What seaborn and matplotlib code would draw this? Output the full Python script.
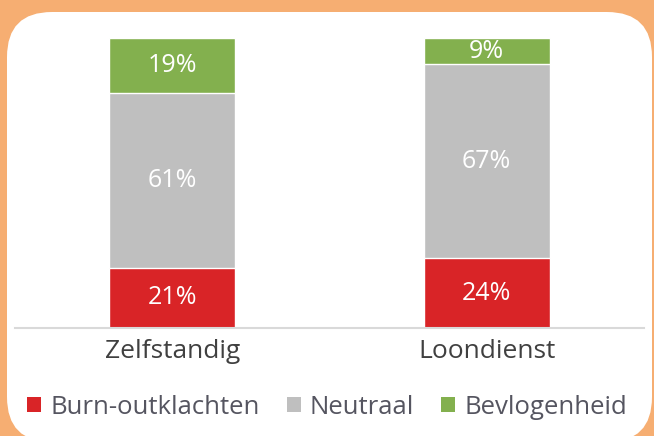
import numpy as np
import pandas as pd
import seaborn as sns
import matplotlib.pyplot as plt
from matplotlib.patches import FancyBboxPatch, Patch
from matplotlib.transforms import IdentityTransform

# gegevens
groepen = ['Zelfstandig', 'Loondienst']
reeksen = ['Burn-outklachten', 'Neutraal', 'Bevlogenheid']
burnout = [21, 24]
neutraal = [61, 67]
bevlogen = [19, 9]
kleuren = ['#D92427', '#BFBFBF', '#83B04E']

sns.set_style('white')
plt.rcParams['font.family'] = ['Open Sans', 'DejaVu Sans']

waarden = np.array([burnout, neutraal, bevlogen], dtype=float)
totaal = waarden.sum(axis=0)
aandeel = waarden / totaal * 100  # schalen naar 100%
cumul = np.cumsum(aandeel, axis=0)

fig = plt.figure(figsize=(6.54, 4.36), dpi=100)
fig.patch.set_facecolor('#F6AE72')

# witte afgeronde kaart (in pixels)
kaart = FancyBboxPatch((7, -6), 645, 430,
                       boxstyle='round,pad=0,rounding_size=45',
                       transform=IdentityTransform(), facecolor='white',
                       edgecolor='none', zorder=-1)
fig.patches.append(kaart)

ax = fig.add_axes([0.0229, 0.2477, 0.9618, 0.6651])
ax.set_facecolor('none')

df = pd.DataFrame({'groep': groepen})
# van boven naar beneden tekenen zodat de stapels zichtbaar blijven
for i in [2, 1, 0]:
    df['h'] = cumul[i]
    sns.barplot(data=df, x='groep', y='h', color=kleuren[i], width=0.4,
                saturation=1, ax=ax, errorbar=None)

for j in range(len(groepen)):
    for i in range(3):
        midden = cumul[i][j] - aandeel[i][j] / 2
        ax.text(j, midden, f'{int(waarden[i][j])}%', ha='center', va='center',
                color='white', fontsize=18)

ax.set_xlim(-0.5, 1.5)
ax.set_ylim(0, 100)
ax.set_yticks([])
ax.set_xlabel('')
ax.set_ylabel('')
ax.tick_params(axis='x', length=0, pad=8, labelsize=19, labelcolor='#404040')
for s in ['top', 'right', 'left']:
    ax.spines[s].set_visible(False)
ax.spines['bottom'].set_color('#D9D9D9')
ax.spines['bottom'].set_linewidth(1.5)

handles = [Patch(facecolor=k, edgecolor='none') for k in kleuren]
fig.legend(handles, reeksen, loc='center', bbox_to_anchor=(0.5, 0.066), ncol=3,
           frameon=False, fontsize=18.5, labelcolor='#555560', handlelength=0.55,
           handleheight=0.55, handletextpad=0.35, columnspacing=1.05)

fig.savefig('out.png', dpi=100, facecolor=fig.get_facecolor())
